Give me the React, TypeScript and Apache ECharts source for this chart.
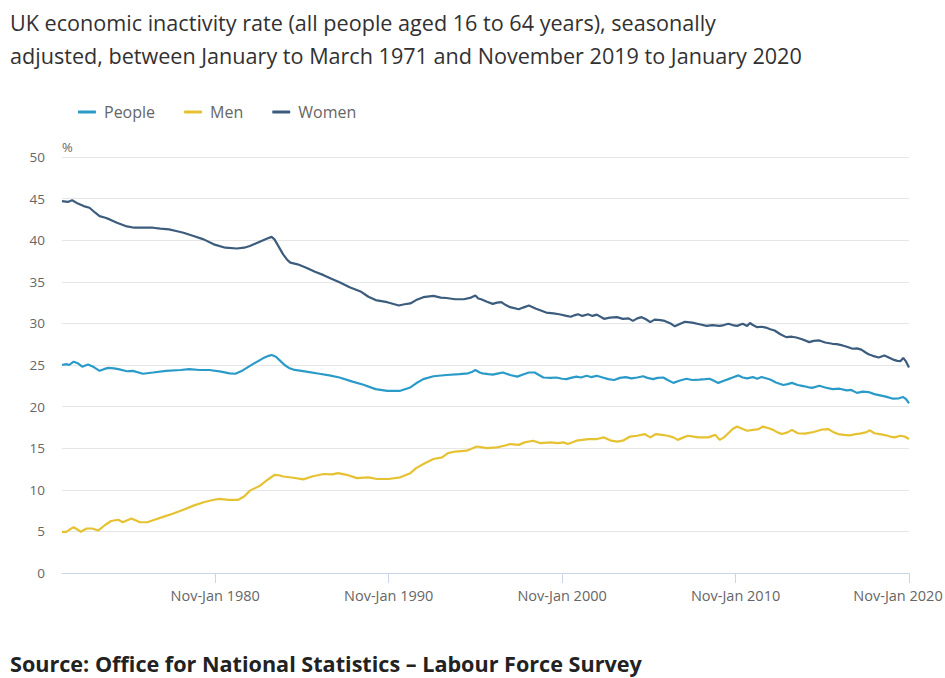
import React, { useEffect, useRef } from "react";
import * as echarts from "echarts";

const MONTHS = ["Jan", "Feb", "Mar", "Apr", "May", "Jun", "Jul", "Aug", "Sep", "Oct", "Nov", "Dec"];
const START_YEAR = 1971;
const PERIOD_COUNT = 587; // Jan-Mar 1971 ... Nov-Jan 2020
const X_TICK_LABELS = ["Nov-Jan 1980", "Nov-Jan 1990", "Nov-Jan 2000", "Nov-Jan 2010", "Nov-Jan 2020"];
const Y_MIN = 0;
const Y_MAX = 50;
const Y_STEP = 5;

const SERIES_NAMES = ["People", "Men", "Women"];
const COLORS = ["#2a9bc8", "#e6c232", "#3c5c7e"];

// [period index (months since Jan-Mar 1971), rate %]
const PEOPLE: [number, number][] = [
  [0, 25.0], [3, 25.1], [5, 25.0], [8, 25.4], [11, 25.2], [14, 24.8], [18, 25.05], [22, 24.75], [26, 24.3],
  [29, 24.5], [32, 24.65], [36, 24.6], [39, 24.5], [45, 24.25], [49, 24.3], [56, 23.95], [63, 24.1], [72, 24.3],
  [82, 24.4], [88, 24.5], [95, 24.4], [102, 24.4], [110, 24.2], [116, 24.0], [120, 23.95], [125, 24.35],
  [132, 25.1], [139, 25.8], [143, 26.1], [145, 26.2], [148, 26.0], [151, 25.5], [154, 25.0], [157, 24.65],
  [160, 24.45], [169, 24.2], [178, 23.95], [185, 23.75], [192, 23.5], [201, 23.0], [208, 22.65], [217, 22.1],
  [225, 21.9], [234, 21.9], [241, 22.3], [245, 22.8], [250, 23.3], [257, 23.65], [266, 23.8], [275, 23.9],
  [281, 24.0], [284, 24.2], [286, 24.4], [289, 24.1], [291, 24.0], [295, 23.9], [298, 23.85], [302, 24.0],
  [305, 24.1], [310, 23.8], [315, 23.6], [319, 23.85], [323, 24.1], [327, 24.1], [330, 23.8], [333, 23.5],
  [338, 23.45], [342, 23.5], [346, 23.35], [349, 23.3], [352, 23.45], [356, 23.6], [359, 23.5], [363, 23.7],
  [366, 23.55], [370, 23.7], [374, 23.5], [378, 23.3], [382, 23.2], [386, 23.45], [390, 23.55], [394, 23.4],
  [398, 23.5], [402, 23.65], [405, 23.45], [409, 23.3], [412, 23.45], [416, 23.5], [419, 23.2], [423, 22.85],
  [427, 23.1], [432, 23.35], [436, 23.2], [441, 23.25], [445, 23.3], [448, 23.35], [451, 23.1], [454, 22.85],
  [457, 23.05], [461, 23.3], [464, 23.5], [468, 23.75], [471, 23.5], [474, 23.4], [478, 23.55], [481, 23.35],
  [484, 23.55], [487, 23.4], [490, 23.25], [494, 22.9], [499, 22.6], [502, 22.7], [505, 22.85], [509, 22.6],
  [512, 22.5], [516, 22.35], [519, 22.25], [524, 22.5], [528, 22.3], [533, 22.1], [538, 22.15], [543, 21.95],
  [546, 22.0], [550, 21.65], [554, 21.8], [558, 21.75], [562, 21.5], [566, 21.35], [570, 21.2], [575, 20.95],
  [579, 21.0], [582, 21.15], [584, 20.9], [586, 20.4],
];

const MEN: [number, number][] = [
  [0, 4.95], [3, 4.95], [6, 5.3], [8, 5.5], [11, 5.2], [13, 4.95], [17, 5.35], [21, 5.35], [25, 5.1], [30, 5.8],
  [34, 6.25], [39, 6.4], [42, 6.1], [48, 6.55], [54, 6.1], [59, 6.1], [64, 6.4], [70, 6.75], [77, 7.15],
  [84, 7.6], [91, 8.1], [98, 8.5], [105, 8.8], [109, 8.9], [115, 8.8], [122, 8.8], [126, 9.2], [130, 9.9],
  [137, 10.5], [143, 11.3], [147, 11.8], [150, 11.75], [153, 11.6], [160, 11.45], [167, 11.25], [173, 11.6],
  [181, 11.9], [187, 11.85], [191, 12.0], [197, 11.8], [204, 11.4], [212, 11.5], [218, 11.3], [226, 11.3],
  [234, 11.5], [241, 12.0], [245, 12.6], [251, 13.2], [257, 13.7], [263, 13.9], [267, 14.4], [272, 14.6],
  [280, 14.7], [287, 15.2], [294, 15.0], [301, 15.1], [306, 15.3], [310, 15.5], [316, 15.4], [320, 15.7],
  [326, 15.9], [331, 15.6], [338, 15.7], [343, 15.6], [347, 15.7], [350, 15.5], [356, 15.9], [360, 16.0],
  [364, 16.1], [370, 16.1], [375, 16.3], [380, 15.9], [384, 15.8], [388, 15.9], [393, 16.4], [398, 16.5],
  [403, 16.7], [407, 16.3], [411, 16.7], [415, 16.6], [419, 16.5], [423, 16.3], [426, 16.0], [430, 16.3],
  [433, 16.5], [437, 16.4], [440, 16.3], [444, 16.3], [447, 16.3], [452, 16.6], [455, 16.0], [458, 16.3],
  [461, 16.8], [464, 17.3], [467, 17.6], [471, 17.3], [474, 17.1], [478, 17.2], [482, 17.3], [485, 17.6],
  [489, 17.4], [492, 17.2], [495, 16.9], [498, 16.7], [502, 16.9], [505, 17.2], [509, 16.8], [514, 16.75],
  [520, 16.95], [526, 17.25], [530, 17.3], [534, 16.9], [537, 16.7], [541, 16.6], [545, 16.55], [549, 16.7],
  [552, 16.75], [556, 16.9], [559, 17.15], [562, 16.8], [566, 16.7], [570, 16.55], [573, 16.4], [576, 16.3],
  [580, 16.5], [583, 16.4], [586, 16.1],
];

const WOMEN: [number, number][] = [
  [0, 44.7], [4, 44.6], [7, 44.8], [11, 44.4], [15, 44.1], [19, 43.9], [23, 43.3], [26, 42.9], [30, 42.7],
  [33, 42.5], [38, 42.1], [44, 41.7], [50, 41.5], [56, 41.5], [63, 41.5], [68, 41.4], [74, 41.3], [79, 41.1],
  [84, 40.9], [91, 40.5], [98, 40.1], [105, 39.5], [113, 39.1], [121, 39.0], [126, 39.1], [130, 39.3],
  [134, 39.6], [138, 39.9], [142, 40.2], [145, 40.4], [147, 40.1], [149, 39.5], [151, 38.9], [153, 38.3],
  [156, 37.6], [158, 37.3], [163, 37.1], [169, 36.7], [175, 36.2], [181, 35.8], [186, 35.4], [192, 34.95],
  [199, 34.35], [207, 33.8], [212, 33.2], [217, 32.8], [225, 32.55], [230, 32.3], [233, 32.15], [237, 32.3],
  [241, 32.4], [245, 32.8], [250, 33.15], [257, 33.3], [262, 33.1], [266, 33.05], [272, 32.9], [278, 32.9],
  [283, 33.1], [286, 33.35], [288, 33.0], [290, 32.9], [294, 32.6], [298, 32.35], [301, 32.5], [304, 32.55],
  [307, 32.2], [310, 31.95], [316, 31.7], [319, 31.9], [323, 32.15], [328, 31.75], [335, 31.3], [340, 31.2],
  [344, 31.1], [349, 30.9], [352, 30.8], [355, 31.0], [357, 31.1], [360, 30.9], [364, 31.1], [367, 30.9],
  [370, 31.05], [375, 30.55], [379, 30.7], [384, 30.75], [388, 30.55], [392, 30.6], [395, 30.3], [398, 30.6],
  [401, 30.75], [404, 30.5], [407, 30.15], [410, 30.45], [414, 30.4], [417, 30.3], [421, 30.0], [424, 29.65],
  [427, 29.9], [431, 30.2], [436, 30.1], [441, 29.9], [446, 29.7], [450, 29.8], [455, 29.7], [458, 29.8],
  [461, 29.95], [464, 29.8], [467, 29.7], [471, 29.95], [474, 29.7], [476, 30.05], [478, 29.8], [481, 29.55],
  [484, 29.6], [487, 29.5], [490, 29.3], [493, 29.15], [497, 28.7], [501, 28.35], [505, 28.4], [508, 28.3],
  [512, 28.1], [517, 27.75], [520, 27.9], [524, 27.95], [528, 27.7], [533, 27.55], [536, 27.5], [540, 27.35],
  [543, 27.2], [547, 26.95], [550, 27.0], [553, 26.85], [556, 26.5], [558, 26.3], [561, 26.1], [565, 25.9],
  [569, 26.15], [572, 25.9], [575, 25.65], [578, 25.5], [580, 25.45], [582, 25.85], [584, 25.4], [586, 24.7],
];

const TITLE =
  "UK economic inactivity rate (all people aged 16 to 64 years), seasonally\nadjusted, between January to March 1971 and November 2019 to January 2020";
const SOURCE = "Source: Office for National Statistics \u2013 Labour Force Survey";

const FONT = "'Open Sans', 'Noto Sans', sans-serif";

function periodLabel(i: number): string {
  const s = i % 12;
  const e = (i + 2) % 12;
  const endYear = START_YEAR + Math.floor((i + 2) / 12);
  return `${MONTHS[s]}-${MONTHS[e]} ${endYear}`;
}

export default function App() {
  const ref = useRef<HTMLDivElement>(null);

  useEffect(() => {
    document.body.style.margin = "0";
    if (!ref.current) return;
    const chart = echarts.init(ref.current, undefined, { renderer: "svg" });

    const categories: string[] = [];
    for (let i = 0; i < PERIOD_COUNT; i++) categories.push(periodLabel(i));
    const tickSet = new Set(X_TICK_LABELS.map((l) => categories.indexOf(l)));
    const showAt = (idx: number) => tickSet.has(idx);
    const lastIdx = PERIOD_COUNT - 1;

    const seriesData = [PEOPLE, MEN, WOMEN];

    chart.setOption({
      animation: false,
      backgroundColor: "#ffffff",
      textStyle: { fontFamily: FONT },
      title: [
        {
          text: TITLE,
          left: 10,
          top: 6,
          padding: 0,
          textStyle: {
            fontFamily: FONT,
            fontSize: 21.6,
            fontWeight: "normal",
            color: "#323132",
            lineHeight: 33,
          },
        },
        {
          text: SOURCE,
          left: 10,
          top: 649,
          padding: 0,
          textStyle: {
            fontFamily: FONT,
            fontSize: 21.6,
            fontWeight: "bold",
            color: "#222222",
            lineHeight: 28,
          },
        },
      ],
      legend: {
        top: 104,
        left: 78,
        padding: 0,
        icon: "roundRect",
        itemWidth: 18,
        itemHeight: 3,
        itemGap: 29,
        textStyle: { fontFamily: FONT, fontSize: 16, color: "#666666", padding: [0, 0, 0, 3] },
        data: SERIES_NAMES,
      },
      grid: { left: 62, right: 36, top: 157, bottom: 105, containLabel: false, outerBoundsMode: "none" },
      xAxis: {
        type: "category",
        data: categories,
        boundaryGap: false,
        axisLine: { lineStyle: { color: "#ccd6eb", width: 1 } },
        axisTick: {
          show: true,
          interval: (idx: number) => showAt(idx),
          length: 10,
          lineStyle: { color: "#ccd6eb" },
        },
        axisLabel: {
          interval: (idx: number) => showAt(idx),
          color: "#666666",
          fontSize: 14.5,
          fontFamily: FONT,
          margin: 15,
          formatter: (value: string, idx: number) => (idx === lastIdx ? `{last|${value}}` : value),
          rich: {
            last: { color: "#666666", fontSize: 14.5, fontFamily: FONT, padding: [0, 22, 0, 0] },
          },
        },
        splitLine: { show: false },
      },
      yAxis: {
        type: "value",
        min: Y_MIN,
        max: Y_MAX,
        interval: Y_STEP,
        name: "%",
        nameLocation: "end",
        nameGap: 4,
        nameTextStyle: { align: "left", color: "#666666", fontSize: 13, fontFamily: FONT },
        axisLine: { show: false },
        axisTick: { show: false },
        axisLabel: { color: "#666666", fontSize: 13.5, fontFamily: FONT, margin: 17 },
        splitLine: { lineStyle: { color: "#e6e6e6", width: 1 } },
      },
      series: SERIES_NAMES.map((name, k) => ({
        name,
        type: "line",
        data: seriesData[k],
        showSymbol: false,
        symbol: "none",
        smooth: false,
        color: COLORS[k],
        lineStyle: { color: COLORS[k], width: 2.2 },
        z: k === 2 ? 3 : 2,
      })),
    });

    return () => chart.dispose();
  }, []);

  return <div ref={ref} style={{ width: 945, height: 678 }} />;
}
